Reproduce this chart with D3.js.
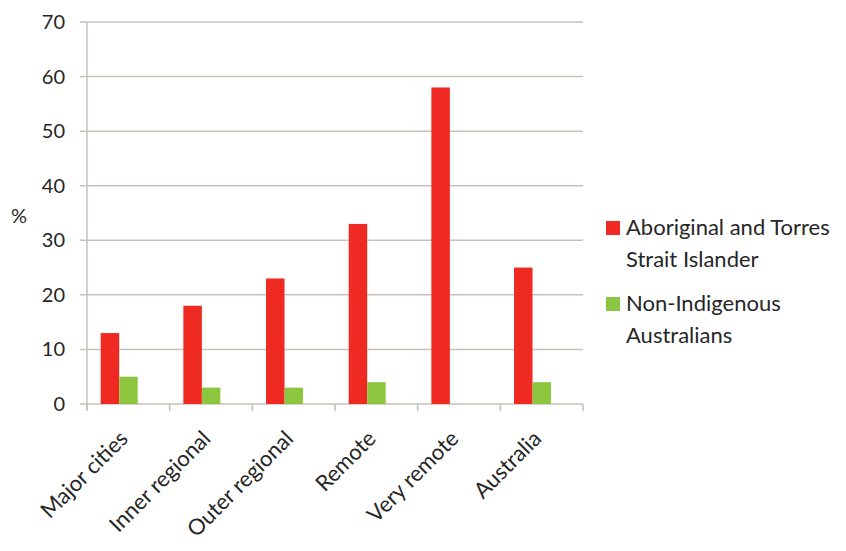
<!DOCTYPE html>
<html>
<head>
<meta charset="utf-8">
<script src="https://cdn.jsdelivr.net/npm/d3@7"></script>
<style>
body{margin:0;background:#fff;}
text{font-family:Lato,"Open Sans",sans-serif;fill:#262626;}
</style>
</head>
<body>
<svg id="chart" width="846" height="551"></svg>
<script>
const categories=["Major cities","Inner regional","Outer regional","Remote","Very remote","Australia"];
const indigenous=[13,18,23,33,58,25];
const nonIndigenous=[5,3,3,4,0,4];
const yTicks=[0,10,20,30,40,50,60,70];
const seriesNames=[["Aboriginal and Torres","Strait Islander"],["Non-Indigenous","Australians"]];
const colors=["#ee2a22","#8cc63f"];

const svg=d3.select("#chart");
const x=d3.scaleBand().domain(categories).range([87,583]).padding(0);
const y=d3.scaleLinear().domain([0,70]).range([404,22]);
const grid="#c9c0bc";

// gridlines
svg.append("g").selectAll("line").data(yTicks).join("line")
  .attr("x1",80).attr("x2",583).attr("y1",d=>y(d)).attr("y2",d=>y(d))
  .attr("stroke",grid).attr("stroke-width",1.5);

// y axis line
svg.append("line").attr("x1",87).attr("x2",87).attr("y1",y(70)).attr("y2",410)
  .attr("stroke",grid).attr("stroke-width",1.5);

// y labels
svg.append("g").selectAll("text").data(yTicks).join("text")
  .attr("x",65).attr("y",d=>y(d)+7).attr("text-anchor","end")
  .style("font-size","20px").text(d=>d);

svg.append("text").attr("x",11).attr("y",223).style("font-size","20px").text("%");

// category ticks
const edges=categories.map(c=>x(c)).concat([x.range()[1]]);
svg.append("g").selectAll("line").data(edges).join("line")
  .attr("x1",d=>d).attr("x2",d=>d).attr("y1",404).attr("y2",411)
  .attr("stroke",grid).attr("stroke-width",1.5);

const bw=18.5, off=13.7;
const g=svg.append("g");
g.selectAll("rect.a").data(indigenous).join("rect").attr("class","a")
  .attr("x",(d,i)=>x(categories[i])+off).attr("width",bw)
  .attr("y",d=>y(d)).attr("height",d=>y(0)-y(d)).attr("fill",colors[0]);
g.selectAll("rect.b").data(nonIndigenous).join("rect").attr("class","b")
  .attr("x",(d,i)=>x(categories[i])+off+bw).attr("width",bw)
  .attr("y",d=>y(d)).attr("height",d=>y(0)-y(d)).attr("fill",colors[1]);

// x labels
svg.append("g").selectAll("text").data(categories).join("text")
  .attr("transform",c=>`translate(${x(c)+x.bandwidth()/2+1},${440}) rotate(-45)`)
  .attr("text-anchor","end").style("font-size","22px").text(c=>c);

// legend
const leg=svg.append("g");
[221,297].forEach((yy,i)=>{
  leg.append("rect").attr("x",606).attr("y",yy).attr("width",14).attr("height",14).attr("fill",colors[i]);
  seriesNames[i].forEach((t,j)=>{
    leg.append("text").attr("x",626).attr("y",yy+14+j*32).style("font-size","22px").text(t);
  });
});
</script>
</body>
</html>
